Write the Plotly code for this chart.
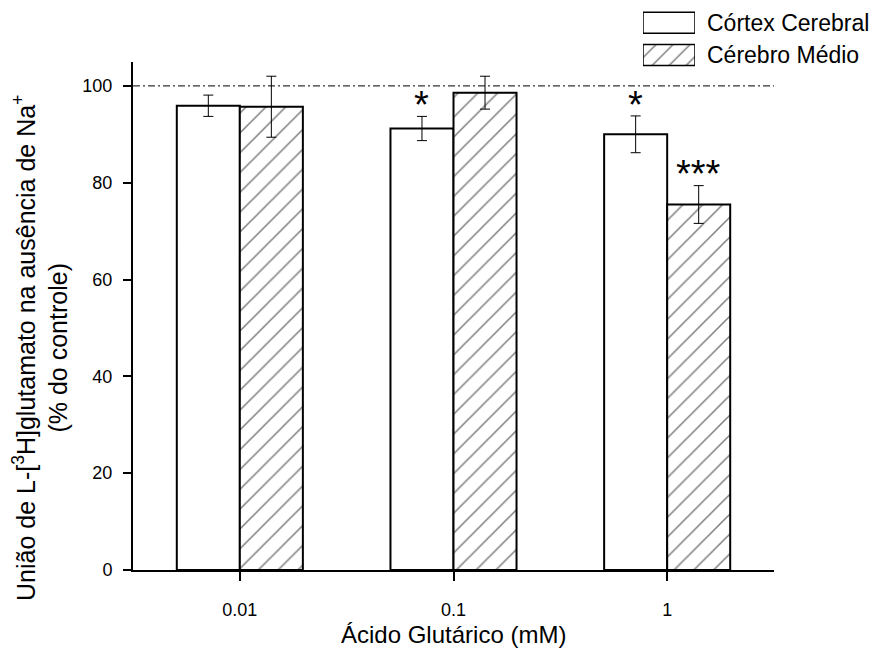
import plotly.graph_objects as go

# ---- data ----
categories = ["0.01", "0.1", "1"]
cortex_vals = [95.9, 91.2, 90.0]
cortex_err = [2.2, 2.5, 3.8]
medio_vals = [95.7, 98.6, 75.5]
medio_err = [6.3, 3.4, 3.9]
cortex_stars = ["", "*", "*"]
medio_stars = ["", "", "***"]
series_names = ["Córtex Cerebral", "Cérebro Médio"]
y_ticks = [0, 20, 40, 60, 80, 100]
control_level = 100

FONT = "Arial, Liberation Sans, Helvetica, sans-serif"
W, H = 883, 648
ML, MR, MT, MB = 133, 4, 4, 78
PW, PH = W - ML - MR, H - MT - MB

def px_x(px):
    return (px - ML) / PW

def px_y(py):
    return (H - MB - py) / PH

bargap = 0.41
bw = (1 - bargap) / 2

fig = go.Figure()
fig.add_trace(go.Bar(
    x=categories, y=cortex_vals, name=series_names[0],
    marker=dict(color="white", line=dict(color="black", width=2)),
    error_y=dict(type="data", array=cortex_err, color="black", thickness=1, width=5),
    showlegend=False,
))
fig.add_trace(go.Bar(
    x=categories, y=medio_vals, name=series_names[1],
    marker=dict(color="white", line=dict(color="black", width=2),
                pattern=dict(shape="/", size=14, solidity=0.11, fgcolor="black", bgcolor="white")),
    error_y=dict(type="data", array=medio_err, color="black", thickness=1, width=5),
    showlegend=False,
))

# legend boxes drawn as bars on small overlay axes
fig.add_trace(go.Bar(
    x=[1, 1], y=[1, 0], orientation="h", width=0.65,
    marker=dict(color="white", line=dict(color="black", width=1.5),
                pattern=dict(shape=["", "/"], size=12, solidity=0.12, fgcolor="black", bgcolor="white")),
    xaxis="x2", yaxis="y2", showlegend=False, hoverinfo="skip",
))

annotations = []
for i in range(len(categories)):
    if cortex_stars[i]:
        annotations.append(dict(x=i - bw / 2, y=cortex_vals[i] + cortex_err[i] + 2.3,
                                xref="x", yref="y", text=cortex_stars[i], showarrow=False,
                                font=dict(size=38, family=FONT, color="black"),
                                xanchor="center", yanchor="middle"))
    if medio_stars[i]:
        annotations.append(dict(x=i + bw / 2, y=medio_vals[i] + medio_err[i] + 2.3,
                                xref="x", yref="y", text=medio_stars[i], showarrow=False,
                                font=dict(size=38, family=FONT, color="black"),
                                xanchor="center", yanchor="middle"))

# legend texts
for name, cy in zip(series_names, [22.8, 55.0]):
    annotations.append(dict(x=px_x(705), y=px_y(cy), xref="paper", yref="paper",
                            text=name, showarrow=False, xanchor="left", yanchor="middle",
                            font=dict(size=23, family=FONT, color="black")))

# axis titles
annotations.append(dict(x=px_x(453.5), y=px_y(634), xref="paper", yref="paper",
                        text="Ácido Glutárico (mM)", showarrow=False,
                        xanchor="center", yanchor="middle",
                        font=dict(size=24, family=FONT, color="black")))
annotations.append(dict(x=px_x(40), y=px_y(348), xref="paper", yref="paper",
                        text="União de L-[<sup>3</sup>H]glutamato na ausência de Na<sup>+</sup><br>(% do controle)",
                        showarrow=False, textangle=-90, xanchor="center", yanchor="middle",
                        font=dict(size=25, family=FONT, color="black")))

fig.update_layout(
    width=W, height=H,
    margin=dict(l=ML, r=MR, t=MT, b=MB),
    paper_bgcolor="white", plot_bgcolor="white",
    barmode="group", bargap=bargap, bargroupgap=0,
    font=dict(family=FONT, color="black"),
    annotations=annotations,
    xaxis=dict(domain=[0, px_x(774)], type="category", range=[-0.5, 2.5],
               showline=True, linecolor="black", linewidth=2,
               ticks="outside", ticklen=9, tickwidth=1.5, tickcolor="black",
               tickfont=dict(size=18, family=FONT, color="black"),
               ticklabelstandoff=13, showgrid=False, zeroline=False),
    yaxis=dict(domain=[0, px_y(61.7)], range=[0, 105],
               tickvals=y_ticks, showline=True, linecolor="black", linewidth=2,
               ticks="outside", ticklen=8, tickwidth=1.5, tickcolor="black",
               tickfont=dict(size=18, family=FONT, color="black"),
               ticklabelstandoff=7, showgrid=False, zeroline=False),
    xaxis2=dict(domain=[px_x(643), px_x(695)], range=[0, 1], anchor="y2",
                visible=False, fixedrange=True),
    yaxis2=dict(domain=[px_y(71.1), px_y(6.7)], range=[-0.5, 1.5], anchor="x2",
                visible=False, fixedrange=True),
    shapes=[dict(type="line", xref="x domain", yref="y", x0=0, x1=1,
                 y0=control_level, y1=control_level,
                 line=dict(color="black", width=1, dash="7px,3px,2px,3px"), layer="below")],
)

fig.write_html("out.html", config={"displayModeBar": False},
               post_script="document.body.style.margin='0';document.body.style.padding='0';")
